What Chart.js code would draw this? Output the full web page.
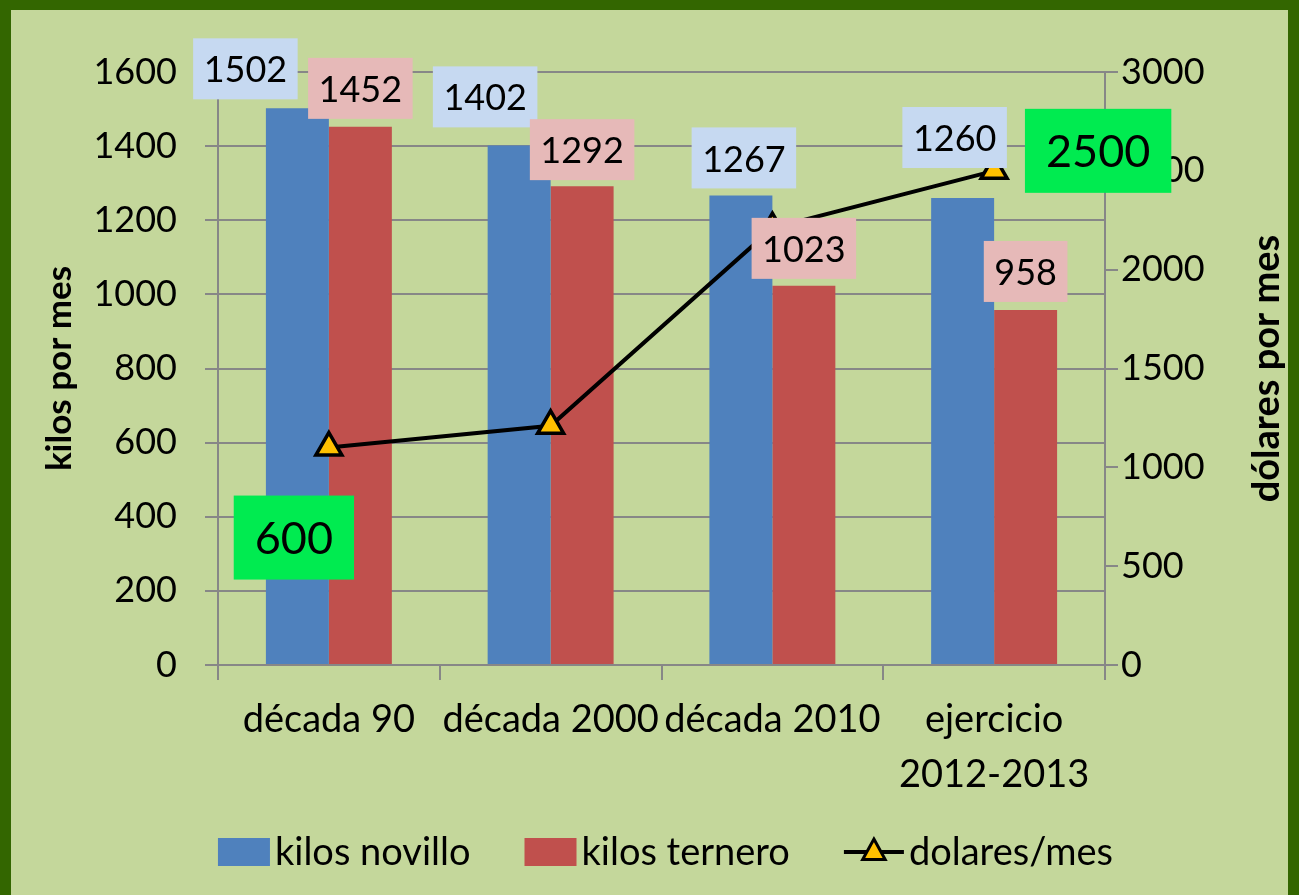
<!DOCTYPE html>
<html><head><meta charset="utf-8">
<script src="https://cdn.jsdelivr.net/npm/chart.js@4"></script>
<style>html,body{margin:0;padding:0;background:#C4D79B;} canvas{display:block}</style>
</head><body><canvas id="c" width="1299" height="895"></canvas>
<script>
// ---- data ----
const categories = ['década 90', 'década 2000', 'década 2010', ['ejercicio', '2012-2013']];
const kilosNovillo = [1502, 1402, 1267, 1260];
const kilosTernero = [1452, 1292, 1023, 958];
const dolaresMes = [1100, 1210, 2210, 2500];
const dolaresLabels = ['600', '', '', '2500'];
const seriesNames = ['kilos novillo', 'kilos ternero', 'dolares/mes'];
const leftAxis = {min: 0, max: 1600, step: 200, title: 'kilos por mes'};
const rightAxis = {min: 0, max: 3000, step: 500, title: 'dólares por mes'};

// ---- style ----
const FONT = 'Lato, "Open Sans", sans-serif';
const GRID = '#878787';
const BLUE = '#4F81BD', RED = '#C0504D';
const barLabelStyle = [
  {bg: '#C6D9F1', off: [[-52, 9], [-34, 18], [3, 7], [-8, 30]]},
  {bg: '#E6B9B8', off: [[0, 8], [0, 6], [0, 7], [0, 8]]}
];
const lineLabelOff = [[-35, 90], [0, 0], [0, 0], [104, -20]];

const decoPlugin = {
  id: 'deco',
  beforeDraw(chart) {
    const c = chart.ctx, W = chart.width, H = chart.height;
    c.save();
    c.fillStyle = '#336600'; c.fillRect(0, 0, W, H);
    c.fillStyle = '#C4D79B'; c.fillRect(11, 10, W - 22, H - 10);
    c.restore();
  },
  afterDatasetsDraw(chart) {
    const c = chart.ctx;
    c.save();
    c.textAlign = 'center'; c.textBaseline = 'middle';
    [0, 1].forEach(di => {
      const meta = chart.getDatasetMeta(di);
      const ds = chart.data.datasets[di];
      c.font = '36px ' + FONT;
      meta.data.forEach((bar, j) => {
        const txt = String(ds.data[j]);
        const w = c.measureText(txt).width + 21, h = 61;
        const [dx, gap] = barLabelStyle[di].off[j];
        const cx = bar.x + dx, bottom = bar.y - gap;
        c.fillStyle = barLabelStyle[di].bg;
        c.fillRect(cx - w / 2, bottom - h, w, h);
        c.fillStyle = '#000';
        c.fillText(txt, cx, bottom - h / 2 + 2);
      });
    });
    const lm = chart.getDatasetMeta(2);
    c.font = '45px ' + FONT;
    lm.data.forEach((pt, j) => {
      const txt = dolaresLabels[j];
      if (!txt) return;
      const w = c.measureText(txt).width + 42, h = 84;
      const cx = pt.x + lineLabelOff[j][0], cy = pt.y + lineLabelOff[j][1];
      c.fillStyle = '#00EB50';
      c.fillRect(cx - w / 2, cy - h / 2, w, h);
      c.fillStyle = '#000';
      c.fillText(txt, cx, cy + 2);
    });
    c.restore();
  },
  afterDraw(chart) {
    const c = chart.ctx, a = chart.chartArea;
    c.save();
    c.fillStyle = '#000'; c.textAlign = 'center'; c.textBaseline = 'middle';
    const cy = (a.top + a.bottom) / 2;
    [[60, leftAxis.title, 35], [1267, rightAxis.title, 38]].forEach(([x, t, s]) => {
      c.font = 'bold ' + s + 'px ' + FONT;
      c.save(); c.translate(x, cy); c.rotate(-Math.PI / 2); c.fillText(t, 0, 0); c.restore();
    });
    // legend
    c.font = '38px ' + FONT;
    c.textAlign = 'left';
    const y = 852;
    const items = chart.data.datasets.map((ds, i) => ({ds, text: seriesNames[i], sym: i < 2 ? 52 : 60}));
    const gapSym = 5, gapItem = 54;
    let total = 0;
    items.forEach((it, i) => { it.tw = c.measureText(it.text).width; total += it.sym + gapSym + it.tw + (i < items.length - 1 ? gapItem : 0); });
    let x = (a.left + a.right) / 2 + 4 - total / 2;
    items.forEach((it, i) => {
      if (i < 2) {
        c.fillStyle = it.ds.backgroundColor;
        c.fillRect(x, y - 14, 52, 28);
      } else {
        c.strokeStyle = '#000'; c.lineWidth = 4;
        c.beginPath(); c.moveTo(x, y); c.lineTo(x + 60, y); c.stroke();
        const tx = x + 30, r = 13;
        c.lineWidth = 3;
        c.beginPath();
        c.moveTo(tx, y - r);
        c.lineTo(tx + r * 0.866, y + r * 0.5 + 1);
        c.lineTo(tx - r * 0.866, y + r * 0.5 + 1);
        c.closePath();
        c.fillStyle = '#FFC000'; c.fill(); c.stroke();
      }
      c.fillStyle = '#000';
      c.fillText(it.text, x + it.sym + gapSym, y + 1);
      x += it.sym + gapSym + it.tw + gapItem;
    });
    c.restore();
  }
};

const plainTick = v => String(v);

new Chart(document.getElementById('c'), {
  data: {
    labels: categories,
    datasets: [
      {type: 'bar', label: seriesNames[0], data: kilosNovillo, backgroundColor: BLUE, yAxisID: 'y', order: 2,
       barPercentage: 1, categoryPercentage: 0.568},
      {type: 'bar', label: seriesNames[1], data: kilosTernero, backgroundColor: RED, yAxisID: 'y', order: 2,
       barPercentage: 1, categoryPercentage: 0.568},
      {type: 'line', label: seriesNames[2], data: dolaresMes, yAxisID: 'y1', order: 1,
       borderColor: '#000', borderWidth: 4, backgroundColor: '#FFC000', tension: 0,
       pointStyle: 'triangle', pointRadius: 15, pointBorderColor: '#000', pointBackgroundColor: '#FFC000',
       pointBorderWidth: 3.5}
    ]
  },
  options: {
    responsive: false, animation: false, devicePixelRatio: 1,
    layout: {padding: {top: 72, left: 0, right: 0, bottom: 0}},
    plugins: {legend: {display: false}, tooltip: {enabled: false}},
    scales: {
      x: {
        grid: {offset: true, drawOnChartArea: false, drawTicks: true, tickLength: 15, color: GRID, lineWidth: 2},
        border: {display: true, color: GRID, width: 2},
        ticks: {color: '#000', font: {family: FONT, size: 38, lineHeight: 1.45}, padding: 12, maxRotation: 0, autoSkip: false},
        afterFit(s) { s.height = 230; }
      },
      y: {
        position: 'left', min: leftAxis.min, max: leftAxis.max,
        grid: {color: GRID, lineWidth: 2, tickLength: 13},
        border: {display: true, color: GRID, width: 2},
        ticks: {stepSize: leftAxis.step, color: '#000', font: {family: FONT, size: 36}, padding: 28, callback: plainTick},
        afterFit(s) { s.width = 218; }
      },
      y1: {
        position: 'right', min: rightAxis.min, max: rightAxis.max,
        grid: {drawOnChartArea: false, color: GRID, lineWidth: 2, tickLength: 13},
        border: {display: true, color: GRID, width: 2},
        ticks: {stepSize: rightAxis.step, color: '#000', font: {family: FONT, size: 36}, padding: 3, callback: plainTick},
        afterFit(s) { s.width = 194; }
      }
    }
  },
  plugins: [decoPlugin]
});
</script></body></html>
